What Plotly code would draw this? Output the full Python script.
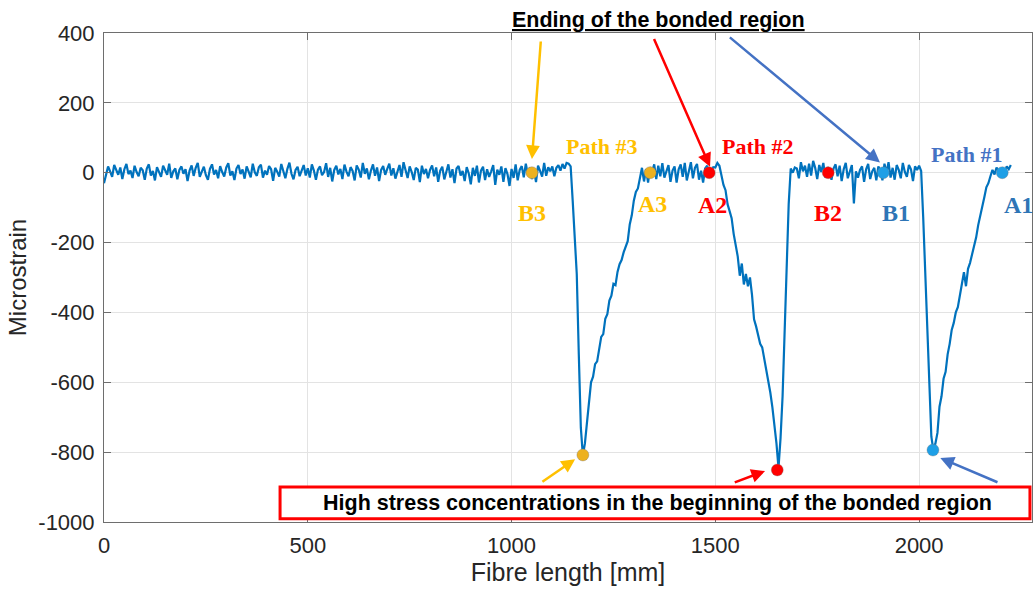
import plotly.graph_objects as go

# ---------------- data ----------------
sample_step_mm = 5
strain = [
    -30, -5, 18, 4, -12, 22, 8, -6, 15, -18, 10, 25, -4, 6, -15, 20, 2, -10, 14, 7,
    -20, 12, 24, -8, 5, -22, 16, 3, -12, 20, 9, -6, 26, -15, 4, 12, -19, 8, 18, -3,
    10, -24, 6, 21, -9, 14, 28, -12, 3, 17, -7, -20, 11, 24, -5, 8, -16, 19, 2, -11,
    15, 27, -8, 4, -21, 12, 22, -4, 9, -17, 18, 5, -13, 26, 1, -9, 16, 23, -14, 6,
    -6, 19, 10, -23, 14, 3, -11, 25, 7, -16, 11, 29, -3, -19, 8, 17, -10, 4, 22, -8,
    13, -14, 24, 6, -20, 9, 18, -7, 2, 27, -12, 14, -25, 8, 20, -5, 11, -18, 23, 3,
    -10, 16, 5, -22, 21, 9, -14, 28, -3, 12, -19, 6, 24, -9, 15, -24, 8, 19, -6, 11,
    26, -8, 13, -17, 4, 22, -12, 30, 7, -15, 18, 2, -21, 14, 9, -27, 20, -4, 11, -16,
    8, 21, -10, 15, -26, 6, 17, -19, 3, 24, -14, 10, -30, 12, 19, -8, 5, -24, 16, -2,
    -33, 14, -9, 20, -28, 6, 17, -21, 10, -12, 4, 22, -35, 9, -6, 18, -26, 13, -4, -38,
    11, -15, 24, -22, 8, 19, -13, 26, -6, 15, -18, 9, -27, 20, 5, -11, 28, -9, 16, 4,
    18, -10, 14, 22, 6, 25, 12, 28, 26, 18, -80, -180, -290, -520, -730, -810, -775, -716, -660, -600,
    -584, -548, -540, -498, -470, -462, -418, -405, -366, -352, -318, -322, -284, -262, -250, -228, -214, -196, -148, -122,
    -80, -55, -45, -10, 14, -25, 10, -28, 16, 2, 24, -18, 20, -10, 27, -14, 8, 22, -26, 6,
    18, -28, 10, 24, -12, 28, -22, 5, 30, -16, 14, 25, -20, 6, -28, 12, 20, -8, 2, 16,
    15, 28, 20, -10, -35, -50, -90, -110, -130, -175, -205, -240, -295, -260, -320, -290, -325, -300, -350, -420,
    -440, -470, -490, -500, -530, -560, -590, -630, -672, -720, -775, -845, -760, -640, -470, -260, -90, 12, 0, 15,
    12, -16, 30, 4, 20, -12, 26, -8, 34, 14, -18, 22, 2, 28, -14, 16, 6, -20, 12, 24,
    -10, 20, -24, 10, 28, -16, 6, 22, -88, 4, -14, 8, 18, -26, 10, 25, -18, 4, 14, -22,
    18, 6, -22, 26, 0, 30, -14, 14, -20, 22, 8, -16, 28, 2, -12, 22, 10, -24, 18, 8,
    20, 5, -126, -280, -440, -630, -755, -795, -775, -745, -670, -640, -590, -570, -520, -490, -450, -430, -400, -385,
    -350, -320, -285, -325, -275, -258, -235, -215, -185, -150, -120, -100, -70, -42, -30, -10, 8, -5, 15, 5,
    -2, 12, 0, 18, 10, 22,
]
fibre_length = [sample_step_mm * i for i in range(len(strain))]

# marked points: (x, y) per path
path3_x = [1050, 1340, 1175]
path3_y = [0, 0, -808]
path2_x = [1485, 1777, 1652]
path2_y = [0, 0, -851]
path1_x = [1912, 2204, 2034]
path1_y = [0, 0, -794]

x_ticks = [0, 500, 1000, 1500, 2000]
x_tick_text = ["0", "500", "1000", "1500", "2000"]
y_ticks = [400, 200, 0, -200, -400, -600, -800, -1000]
y_tick_text = ["400", "200", "0", "-200", "-400", "-600", "-800", "-1000"]

# ---------------- styles ----------------
LINE_BLUE = "#0072BD"
ORANGE_M = "#EDB120"
ORANGE_T = "#FFC000"
RED = "#FF0000"
BLUE_M = "#1E9FE6"
BLUE_T = "#2E75B6"
BLUE_ARROW = "#4472C4"
SANS = "Arial, Liberation Sans, sans-serif"
SERIF = "Times New Roman, Liberation Serif, serif"

fig = go.Figure()
fig.add_trace(go.Scatter(x=fibre_length, y=strain, mode="lines",
                         line=dict(color=LINE_BLUE, width=2.2), hoverinfo="skip"))
for xs, ys, col in [(path3_x, path3_y, ORANGE_M), (path2_x, path2_y, RED), (path1_x, path1_y, BLUE_M)]:
    fig.add_trace(go.Scatter(x=xs, y=ys, mode="markers",
                             marker=dict(color=col, size=12, line=dict(color="rgba(120,120,120,0.6)", width=0.6))))

# text labels
labels = [
    ("Path #3", 1222, 76, ORANGE_T, 22),
    ("B3", 1050, -115, ORANGE_T, 24),
    ("A3", 1345, -90, ORANGE_T, 24),
    ("Path #2", 1605, 74, RED, 22),
    ("A2", 1494, -92, RED, 24),
    ("B2", 1777, -115, RED, 24),
    ("Path #1", 2118, 51, BLUE_ARROW, 22),
    ("B1", 1944, -115, BLUE_T, 24),
    ("A1", 2245, -92, BLUE_T, 24),
]
for txt, lx, ly, col, fs in labels:
    fig.add_annotation(x=lx, y=ly, text=f"<b>{txt}</b>", showarrow=False,
                       font=dict(family=SERIF, size=fs, color=col))

# arrows: (tail_x, tail_y, head_x, head_y, colour)
arrows = [
    (1072, 380, 1050, 39, ORANGE_T),
    (1348, 387, 1487, 17, RED),
    (1532, 391, 1904, 29, BLUE_ARROW),
    (1072, -888, 1156, -820, ORANGE_T),
    (1544, -888, 1622, -854, RED),
    (2196, -888, 2052, -817, BLUE_ARROW),
]
for tx, ty, hx, hy, col in arrows:
    fig.add_annotation(x=hx, y=hy, ax=tx, ay=ty, xref="x", yref="y", axref="x", ayref="y",
                       text="", showarrow=True, arrowhead=2, arrowsize=1.1, arrowwidth=2.5,
                       arrowcolor=col, standoff=0)

# bottom box
fig.add_shape(type="rect", x0=432, x1=2272, y0=-991, y1=-900, xref="x", yref="y",
              line=dict(color=RED, width=3), fillcolor="white", layer="above")
fig.add_annotation(x=1359, y=-946, text="<b>High stress concentrations in the beginning of the bonded region</b>",
                   showarrow=False, font=dict(family=SANS, size=21.5, color="black"))

# top heading
fig.add_annotation(x=0.597, y=1.027, xref="paper", yref="paper", xanchor="center", yanchor="middle",
                   text="<b><u>Ending of the bonded region</u></b>", showarrow=False,
                   font=dict(family=SANS, size=21.5, color="black"))

axis_common = dict(showgrid=True, gridcolor="#e3e3e3", gridwidth=1, zeroline=False,
                   showline=True, linecolor="#6e6e6e", linewidth=1, mirror="ticks",
                   ticks="inside", ticklen=7, tickcolor="#6e6e6e",
                   tickfont=dict(family=SANS, size=22, color="#262626"))

fig.update_layout(
    width=1033, height=589,
    margin=dict(l=104, r=1, t=33, b=67),
    paper_bgcolor="white", plot_bgcolor="white",
    showlegend=False,
    xaxis=dict(range=[0, 2277], tickvals=x_ticks, ticktext=x_tick_text,
               title=dict(text="Fibre length [mm]", font=dict(family=SANS, size=25, color="#262626"), standoff=2),
               ticklabelstandoff=4, **axis_common),
    yaxis=dict(range=[-1000, 400], tickvals=y_ticks, ticktext=y_tick_text,
               title=dict(text="Microstrain", font=dict(family=SANS, size=24, color="#262626"), standoff=4),
               ticklabelstandoff=4, **axis_common),
)

fig.write_html("out.html")
